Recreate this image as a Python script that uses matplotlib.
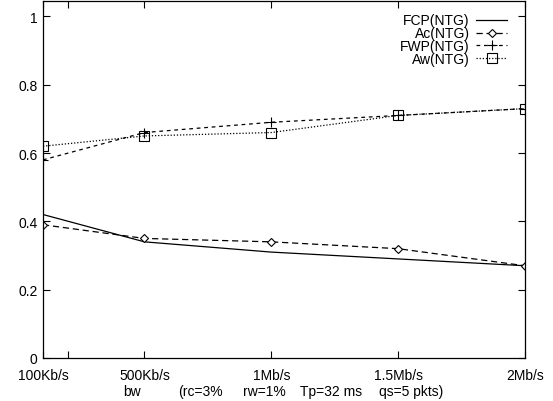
import matplotlib.pyplot as plt
import numpy as np

plt.rcParams["font.family"] = ["Liberation Sans", "DejaVu Sans"]

# bandwidth in Kb/s
bw = [100, 500, 1000, 1500, 2000]
bw_ticks = [100, 200, 500, 1000, 1500, 2000]
bw_labels = ["100Kb/s", "", "500Kb/s", "1Mb/s", "1.5Mb/s", "2Mb/s"]

fcp_ntg = [0.42, 0.34, 0.31, 0.29, 0.27]
ac_ntg = [0.39, 0.35, 0.34, 0.32, 0.27]
fwp_ntg = [0.58, 0.66, 0.69, 0.71, 0.73]
aw_ntg = [0.62, 0.65, 0.66, 0.71, 0.73]

# second line under the x axis: axis name and simulation parameters
xlabel_parts = ["bw", "(rc=3%", "rw=1%", "Tp=32 ms", "qs=5 pkts)"]
xlabel_centers = [132, 200, 264, 331, 411]  # pixel x of each part

W, H = 553, 402
fig = plt.figure(figsize=(W / 100, H / 100), dpi=100)
ax = fig.add_axes([43 / W, 1 - 359 / H, 482 / W, 357 / H])

lw = 0.9
ax.plot(bw, fcp_ntg, color="black", lw=lw, ls="-", label="FCP(NTG)")
ax.plot(bw, ac_ntg, color="black", lw=lw, ls=(0, (5, 3)), marker="D",
        ms=4.5, mfc="white", mec="black", mew=0.8, label="Ac(NTG)")
ax.plot(bw, fwp_ntg, color="black", lw=lw, ls=(0, (3, 3)), marker="+",
        ms=7, mew=0.8, label="FWP(NTG)")
ax.plot(bw, aw_ntg, color="black", lw=lw, ls=(0, (1, 1.5)), marker="s",
        ms=6.5, mfc="none", mec="black", mew=0.8, label="Aw(NTG)")

ax.set_xlim(100, 2000)
ax.set_ylim(0, 1.045)
ax.set_xticks(bw_ticks)
ax.set_xticklabels(bw_labels, fontsize=10)
ax.set_yticks([0, 0.2, 0.4, 0.6, 0.8, 1.0])
ax.set_yticklabels(["0", "0.2", "0.4", "0.6", "0.8", "1"], fontsize=10)
ax.tick_params(direction="in", length=5, width=0.8, top=True, right=True)
ax.tick_params(axis="x", pad=7)
ax.tick_params(axis="y", pad=4)
for s in ax.spines.values():
    s.set_linewidth(0.9)

for part, cx in zip(xlabel_parts, xlabel_centers):
    fig.text(cx / W, 1 - 385 / H, part, ha="center", va="top", fontsize=10)

leg = ax.legend(loc="upper right", bbox_to_anchor=(1 - 18 / 482, 0.965),
                frameon=False, markerfirst=False, fontsize=10,
                handlelength=2.2, handletextpad=0.5, labelspacing=-0.08,
                borderaxespad=0, borderpad=0)
for t in leg.get_texts():
    t.set_ha("right")

fig.savefig("out.png", dpi=100)
